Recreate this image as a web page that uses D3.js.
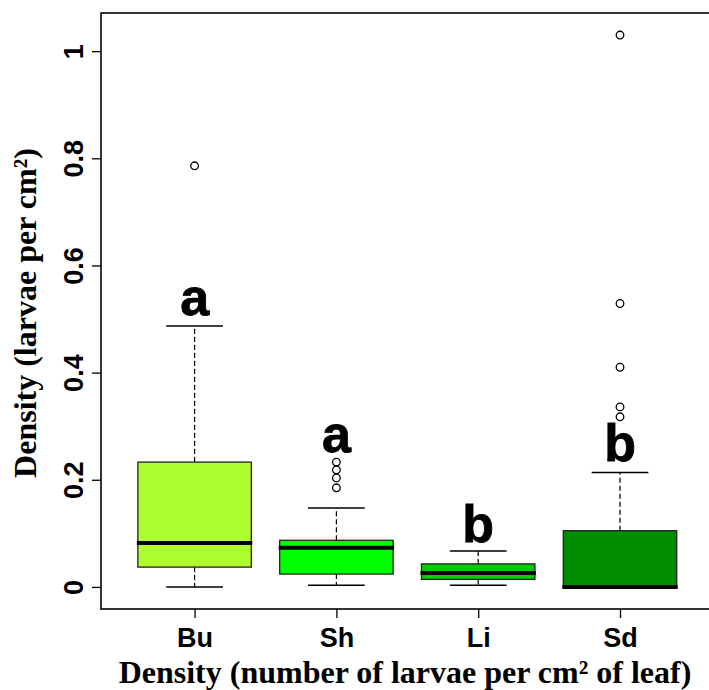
<!DOCTYPE html>
<html>
<head>
<meta charset="utf-8">
<title>Larvae density</title>
<script src="https://cdn.jsdelivr.net/npm/d3@7"></script>
<style>
  body { margin: 0; background: #fff; }
  .tick text { font-family: "Liberation Sans", Arial, sans-serif; font-weight: bold; }
  .title { font-family: "Liberation Serif", "Times New Roman", serif; font-weight: bold; }
</style>
</head>
<body>
<svg id="graph" width="709" height="690"></svg>
<script>
// groups and box stats
var groups = ["Bu", "Sh", "Li", "Sd"]
var lowWhisker = [0, 0.003, 0.003, 0]
var q1 = [0.037, 0.024, 0.014, 0]
var median = [0.082, 0.073, 0.026, 0]
var q3 = [0.233, 0.087, 0.043, 0.105]
var highWhisker = [0.487, 0.1475, 0.067, 0.2136]
var outliers = [
  [0.786],
  [0.185, 0.2035, 0.2185, 0.233],
  [],
  [0.3175, 0.336, 0.41, 0.529, 1.03]
]
var letters = ["a", "a", "b", "b"]
var letterAt = [0.507, 0.252, 0.084, 0.235]
var fills = ["#adff2f", "#00ff00", "#00cd00", "#008b00"]

var yTicks = [0, 0.2, 0.4, 0.6, 0.8, 1]
var yTickLabels = ["0", "0.2", "0.4", "0.6", "0.8", "1"]

var svg = d3.select("#graph")

var x = d3.scaleLinear().domain([0.34, 4.66]).range([101, 713.6])
var y = d3.scaleLinear().domain([-0.0412, 1.0712]).range([609, 13])

var boxW = x(1.4) - x(1)   // half width of a box (0.8 wide)
var capW = x(1.2) - x(1)

var rows = groups.map(function (g, i) {
  return { g: g, pos: i + 1, lo: lowWhisker[i], q1: q1[i], med: median[i], q3: q3[i],
           hi: highWhisker[i], out: outliers[i], fill: fills[i], letter: letters[i], la: letterAt[i] }
})

var box = svg.selectAll("g.box").data(rows).enter().append("g").attr("class", "box")

// whiskers
box.append("line")
  .attr("x1", d => x(d.pos)).attr("x2", d => x(d.pos))
  .attr("y1", d => y(d.q3)).attr("y2", d => y(d.hi))
  .attr("stroke", "#000").attr("stroke-width", 1.2).attr("stroke-dasharray", "5,3")
box.append("line")
  .attr("x1", d => x(d.pos)).attr("x2", d => x(d.pos))
  .attr("y1", d => y(d.q1)).attr("y2", d => y(d.lo))
  .attr("stroke", "#000").attr("stroke-width", 1.2).attr("stroke-dasharray", "5,3")
// caps
box.append("line")
  .attr("x1", d => x(d.pos) - capW).attr("x2", d => x(d.pos) + capW)
  .attr("y1", d => y(d.hi)).attr("y2", d => y(d.hi))
  .attr("stroke", "#000").attr("stroke-width", 1.5)
box.append("line")
  .attr("x1", d => x(d.pos) - capW).attr("x2", d => x(d.pos) + capW)
  .attr("y1", d => y(d.lo)).attr("y2", d => y(d.lo))
  .attr("stroke", "#000").attr("stroke-width", 1.5)

// boxes
box.append("rect")
  .attr("x", d => x(d.pos) - boxW)
  .attr("width", boxW * 2)
  .attr("y", d => y(d.q3))
  .attr("height", d => y(d.q1) - y(d.q3))
  .attr("fill", d => d.fill)
  .attr("stroke", "#222").attr("stroke-width", 1.3)

// medians
box.append("line")
  .attr("x1", d => x(d.pos) - boxW - 1).attr("x2", d => x(d.pos) + boxW + 1)
  .attr("y1", d => y(d.med)).attr("y2", d => y(d.med))
  .attr("stroke", "#000").attr("stroke-width", 4)

// outliers
box.selectAll("circle").data(d => d.out.map(v => ({ pos: d.pos, v: v })))
  .enter().append("circle")
  .attr("cx", d => x(d.pos)).attr("cy", d => y(d.v)).attr("r", 3.8)
  .attr("fill", "none").attr("stroke", "#000").attr("stroke-width", 1.3)

// group letters
box.append("text")
  .attr("x", d => x(d.pos)).attr("y", d => y(d.la))
  .attr("text-anchor", "middle")
  .style("font-family", "'Liberation Sans', Arial, sans-serif")
  .style("font-weight", "bold").style("font-size", "52px")
  .attr("stroke", "#000").attr("stroke-width", 0.8)
  .text(d => d.letter)

// frame
svg.append("rect")
  .attr("x", 101).attr("y", 13).attr("width", 612.6).attr("height", 596)
  .attr("fill", "none").attr("stroke", "#000").attr("stroke-width", 1.6)

// y axis
var yAxis = svg.append("g").attr("transform", "translate(101,0)")
  .call(d3.axisLeft(y).tickValues(yTicks).tickFormat((d, i) => yTickLabels[i]).tickSize(9).tickSizeOuter(0))
yAxis.select(".domain").remove()
yAxis.selectAll(".tick line").attr("stroke-width", 1.3)
yAxis.selectAll(".tick text")
  .attr("transform", "rotate(-90)")
  .attr("x", 0).attr("y", -18).attr("dy", 0)
  .attr("text-anchor", "middle")
  .style("font-size", "27px")

// x axis
var xAxis = svg.append("g").attr("transform", "translate(0,609)")
  .call(d3.axisBottom(x).tickValues([1, 2, 3, 4]).tickFormat((d, i) => groups[i]).tickSize(9).tickSizeOuter(0))
xAxis.select(".domain").remove()
xAxis.selectAll(".tick line").attr("stroke-width", 1.3)
xAxis.selectAll(".tick text")
  .attr("y", 38).attr("dy", 0)
  .style("font-size", "27px")

// titles
svg.append("text").attr("class", "title")
  .attr("x", 405).attr("y", 683)
  .attr("text-anchor", "middle")
  .style("font-size", "32px")
  .text("Density (number of larvae per cm² of leaf)")

svg.append("text").attr("class", "title")
  .attr("transform", "translate(36,313) rotate(-90)")
  .attr("text-anchor", "middle")
  .style("font-size", "32px")
  .text("Density (larvae per cm²)")
</script>
</body>
</html>
